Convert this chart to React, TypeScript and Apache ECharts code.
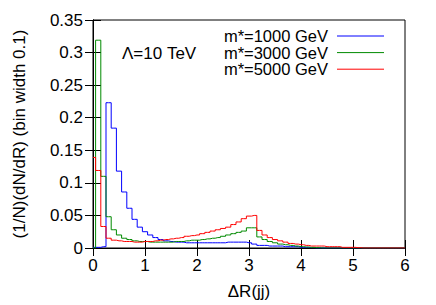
import React, { useEffect, useRef } from "react";
import * as echarts from "echarts";

// bin width 0.1, values at bin centres 0.0, 0.1, ..., 6.0
const binCount = 61;
const binWidth = 0.1;

const m1000: number[] = [
  0.001, 0.001, 0.002, 0.223, 0.184, 0.118, 0.086, 0.061, 0.044, 0.032,
  0.025, 0.020, 0.016, 0.013, 0.011, 0.010, 0.009, 0.009, 0.008, 0.008,
  0.008, 0.008, 0.008, 0.008, 0.008, 0.008, 0.009, 0.009, 0.009, 0.009,
  0.008, 0.006, 0.004, 0.004, 0.003, 0.003, 0.003, 0.002, 0.002, 0.002,
  0.001, 0.001, 0.0005, 0, 0, 0, 0, 0, 0, 0,
  0, 0, 0, 0, 0, 0, 0, 0, 0, 0, 0,
];

const m3000: number[] = [
  0.0, 0.319, 0.110, 0.048, 0.028, 0.020, 0.015, 0.013, 0.011, 0.010,
  0.010, 0.009, 0.009, 0.009, 0.009, 0.009, 0.010, 0.010, 0.011, 0.012,
  0.012, 0.013, 0.014, 0.015, 0.016, 0.018, 0.020, 0.022, 0.024, 0.026,
  0.031, 0.031, 0.017, 0.013, 0.010, 0.008, 0.006, 0.005, 0.004, 0.003,
  0.002, 0.0015, 0.001, 0.0005, 0, 0, 0, 0, 0, 0,
  0, 0, 0, 0, 0, 0, 0, 0, 0, 0, 0,
];

const m5000: number[] = [
  0.139, 0.119, 0.033, 0.015, 0.012, 0.011, 0.010, 0.010, 0.009, 0.009,
  0.010, 0.010, 0.011, 0.012, 0.013, 0.014, 0.015, 0.016, 0.018, 0.019,
  0.020, 0.022, 0.024, 0.026, 0.028, 0.030, 0.032, 0.036, 0.040, 0.045,
  0.049, 0.050, 0.027, 0.020, 0.016, 0.013, 0.011, 0.009, 0.007, 0.006,
  0.005, 0.004, 0.003, 0.003, 0.003, 0.002, 0.002, 0.002, 0.001, 0.001,
  0.001, 0.0005, 0, 0, 0, 0, 0, 0, 0, 0, 0,
];

const seriesNames = ["m*=1000 GeV", "m*=3000 GeV", "m*=5000 GeV"];
const seriesColors = ["#0000ff", "#008a00", "#ff0000"];
const seriesValues = [m1000, m3000, m5000];

const FONT = "'Liberation Sans', Arial, Helvetica, sans-serif";
const FS = 17;
const LEGEND_FS = 16.5;

export default function App() {
  const ref = useRef<HTMLDivElement>(null);

  useEffect(() => {
    if (!ref.current) return;
    const chart = echarts.init(ref.current, undefined, { renderer: "svg" });

    const centers = Array.from({ length: binCount }, (_, i) => +(i * binWidth).toFixed(1));

    const left = 93;
    const right = 31;
    const top = 20;
    const bottom = 55;

    const tickStyle = { lineStyle: { color: "#000", width: 1 } };

    const series: any[] = seriesValues.map((vals, s) => ({
      name: seriesNames[s],
      type: "line",
      step: "middle",
      showSymbol: false,
      symbol: "none",
      data: vals.map((v, i) => [centers[i], v]),
      lineStyle: { color: seriesColors[s], width: 1 },
      itemStyle: { color: seriesColors[s] },
      clip: true,
      z: 2 + s,
    }));

    const legendX = 328;
    const legendYs = [36, 52.6, 69.2];
    const graphics: any[] = [];
    seriesNames.forEach((n, i) => {
      graphics.push({
        type: "text",
        x: legendX,
        y: legendYs[i],
        style: {
          text: n,
          font: `${LEGEND_FS}px ${FONT}`,
          fill: "#000",
          align: "right",
          verticalAlign: "middle",
        },
      });
      graphics.push({
        type: "line",
        shape: { x1: 337, y1: legendYs[i], x2: 384, y2: legendYs[i] },
        style: { stroke: seriesColors[i], lineWidth: 1 },
      });
    });
    graphics.push({
      type: "text",
      x: 122,
      y: 53,
      style: {
        text: "Λ=10 TeV",
        font: `${FS}px ${FONT}`,
        fill: "#000",
        align: "left",
        verticalAlign: "middle",
      },
    });

    chart.setOption({
      animation: false,
      grid: {
        left,
        right,
        top,
        bottom,
        show: true,
        borderColor: "#000",
        borderWidth: 1,
        backgroundColor: "transparent",
      },
      xAxis: [
        {
          type: "value",
          min: 0,
          max: 6,
          interval: 1,
          name: "ΔR(jj)",
          nameLocation: "middle",
          nameGap: 35,
          nameTextStyle: { fontFamily: FONT, fontSize: FS, color: "#000" },
          axisLine: { show: true, lineStyle: { color: "#000" } },
          axisTick: { show: true, inside: true, length: 8, ...tickStyle },
          axisLabel: { fontFamily: FONT, fontSize: FS, color: "#000", margin: 9 },
          splitLine: { show: false },
        },
        {
          type: "value",
          position: "top",
          min: 0,
          max: 6,
          interval: 1,
          axisLine: { show: true, lineStyle: { color: "#000" } },
          axisTick: { show: true, inside: true, length: 8, ...tickStyle },
          axisLabel: { show: false },
          splitLine: { show: false },
        },
      ],
      yAxis: [
        {
          type: "value",
          min: 0,
          max: 0.35,
          interval: 0.05,
          name: "(1/N)(dN/dR) (bin width 0.1)",
          nameLocation: "middle",
          nameGap: 65,
          nameTextStyle: { fontFamily: FONT, fontSize: FS, color: "#000" },
          axisLine: { show: true, lineStyle: { color: "#000" } },
          axisTick: { show: true, inside: true, length: 8, ...tickStyle },
          axisLabel: {
            fontFamily: FONT,
            fontSize: FS,
            color: "#000",
            margin: 10,
            formatter: (v: number) => String(+v.toFixed(2)),
          },
          splitLine: { show: false },
        },
        {
          type: "value",
          position: "right",
          min: 0,
          max: 0.35,
          interval: 0.05,
          axisLine: { show: true, lineStyle: { color: "#000" } },
          axisTick: { show: true, inside: true, length: 8, ...tickStyle },
          axisLabel: { show: false },
          splitLine: { show: false },
        },
      ],
      series,
      graphic: graphics,
    });

    return () => chart.dispose();
  }, []);

  return <div ref={ref} style={{ width: 436, height: 305, position: "absolute", left: 0, top: 0 }} />;
}
